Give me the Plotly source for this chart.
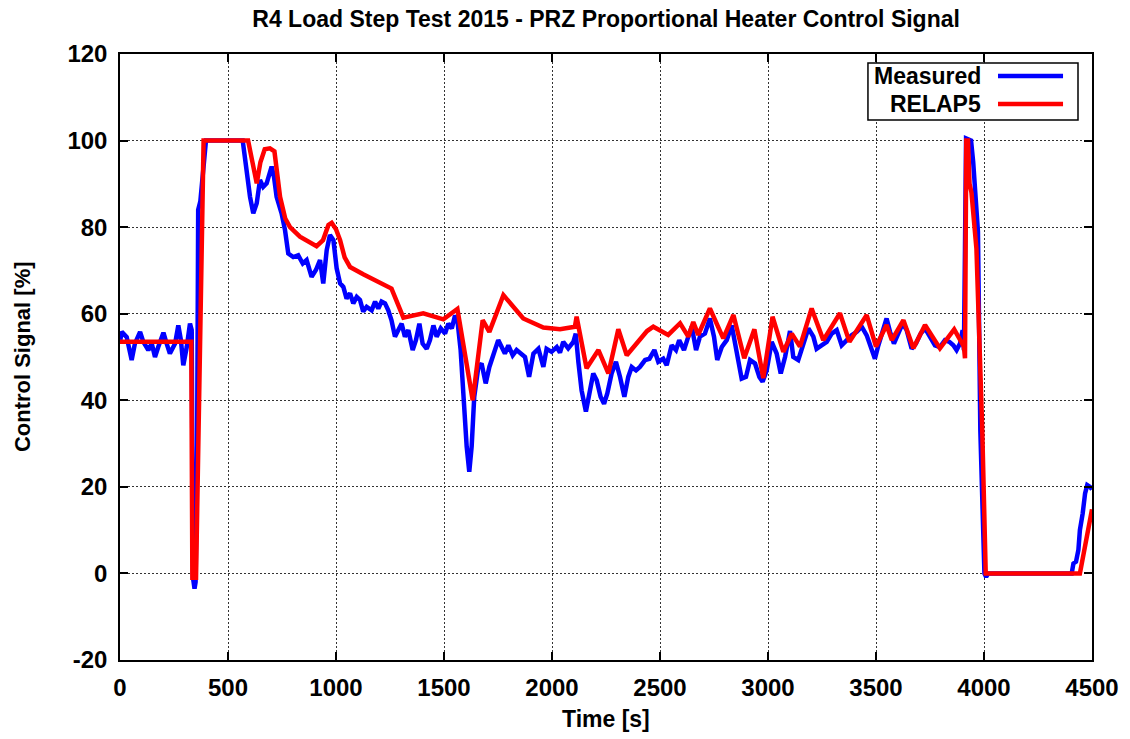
import plotly.graph_objects as go

# Measured pressurizer proportional heater control signal
time_meas = [0, 8, 31, 54, 69, 93, 108, 131, 147, 162, 177, 201, 216, 231, 255, 270, 282, 293, 309, 324, 332,
             338, 345, 350, 357, 362, 372, 398, 568, 586, 602, 617, 633, 648, 663, 679, 702, 713, 725, 748, 764,
             779, 802, 825, 846, 864, 887, 907, 926, 941, 957, 972, 988, 1003, 1019, 1034, 1049, 1065, 1080,
             1096, 1111, 1126, 1142, 1165, 1181, 1196, 1211, 1227, 1242, 1257, 1273, 1288, 1304, 1319, 1335,
             1355, 1370, 1386, 1401, 1420, 1435, 1451, 1466, 1485, 1505, 1520, 1536, 1551, 1562, 1577, 1590,
             1605, 1617, 1628, 1640, 1659, 1674, 1693, 1710, 1728, 1751, 1767, 1782, 1798, 1818, 1836, 1860,
             1875, 1894, 1914, 1937, 1960, 1975, 1998, 2022, 2037, 2052, 2075, 2099, 2110, 2122, 2137, 2157,
             2176, 2191, 2207, 2225, 2241, 2256, 2276, 2296, 2315, 2335, 2353, 2369, 2389, 2407, 2431, 2451,
             2474, 2492, 2515, 2531, 2554, 2574, 2589, 2611, 2631, 2647, 2667, 2685, 2708, 2731, 2750, 2765,
             2786, 2809, 2832, 2855, 2878, 2898, 2917, 2940, 2960, 2975, 2994, 3017, 3040, 3059, 3079, 3102,
             3117, 3140, 3164, 3187, 3210, 3225, 3248, 3272, 3295, 3318, 3341, 3364, 3387, 3411, 3434, 3457,
             3480, 3495, 3511, 3531, 3549, 3565, 3583, 3603, 3623, 3642, 3665, 3685, 3707, 3727, 3750, 3773,
             3796, 3819, 3840, 3858, 3873, 3889, 3901, 3907, 3912, 3917, 3940, 3950, 3972, 3983, 4002, 4010,
             4020, 4406, 4414, 4426, 4437, 4444, 4457, 4468, 4478, 4491, 4500]
signal_meas = [53.5, 55.8, 54.6, 49.3, 53.1, 55.8, 53.5, 51.6, 53.1, 50.0, 52.3, 55.6, 53.1, 50.8, 53.1, 57.3,
               53.9, 48.1, 52.3, 57.7, 56.2, -1.0, -3.5, -2.0, 30.0, 84.0, 86.0, 100.0, 100.0, 92.4, 87.0, 83.2,
               85.5, 90.9, 89.3, 90.1, 94.0, 91.6, 87.0, 83.2, 79.3, 73.9, 73.1, 73.5, 71.6, 72.4, 68.5, 70.1,
               72.4, 67.0, 74.7, 78.2, 77.0, 70.5, 67.0, 66.2, 63.5, 64.7, 62.4, 63.9, 63.2, 60.5, 61.6, 60.8,
               62.8, 61.2, 62.8, 62.4, 60.8, 58.5, 54.7, 56.2, 57.7, 54.7, 56.2, 51.6, 53.9, 57.7, 53.1, 51.9,
               53.9, 57.3, 54.7, 56.6, 55.4, 57.7, 56.6, 59.6, 58.5, 51.6, 40.8, 29.3, 23.5, 29.3, 40.8, 47.7,
               48.5, 43.9, 47.7, 50.8, 53.9, 52.3, 50.8, 52.7, 50.4, 51.6, 50.4, 50.0, 45.4, 50.8, 51.9, 47.7,
               51.9, 51.2, 52.3, 51.0, 53.5, 52.0, 53.5, 55.4, 48.9, 42.3, 37.4, 42.3, 46.2, 44.6, 40.8, 39.2,
               41.6, 46.2, 48.9, 45.4, 40.8, 45.4, 47.7, 46.9, 47.7, 49.3, 49.6, 51.6, 48.9, 49.6, 48.1, 52.7,
               51.6, 53.9, 51.6, 54.7, 57.0, 51.6, 54.7, 55.4, 58.9, 54.7, 49.3, 52.3, 53.9, 57.3, 50.8, 45.0,
               45.4, 49.3, 48.5, 45.4, 44.3, 46.9, 53.5, 50.8, 46.2, 50.0, 56.0, 50.0, 49.3, 53.1, 56.6, 54.7,
               51.9, 52.7, 53.5, 55.4, 56.2, 52.7, 53.9, 55.0, 55.8, 57.0, 55.0, 51.2, 49.6, 52.7, 56.2, 58.9,
               55.8, 53.1, 55.4, 57.7, 56.2, 51.9, 53.1, 55.4, 56.6, 54.7, 52.7, 52.3, 53.9, 53.5, 52.7, 51.6,
               53.1, 56.2, 51.6, 75.0, 100.5, 100.0, 95.0, 79.0, 33.0, 0.0, -0.8, 0.0, 0.0, 2.3, 2.7, 5.4, 10.0,
               13.9, 18.5, 20.4, 20.0, 19.4]

# RELAP5 simulation of the same signal
time_relap = [0, 330, 335, 352, 387, 593, 633, 650, 670, 694, 715, 741, 765, 787, 833, 910, 940, 965, 980, 1000,
              1019, 1040, 1065, 1126, 1257, 1312, 1404, 1497, 1562, 1633, 1679, 1710, 1775, 1867, 1960, 2037,
              2106, 2114, 2160, 2215, 2261, 2307, 2346, 2400, 2440, 2469, 2538, 2593, 2631, 2654, 2677, 2731,
              2793, 2840, 2890, 2937, 2978, 3021, 3071, 3110, 3148, 3202, 3256, 3333, 3377, 3457, 3500, 3549,
              3573, 3627, 3673, 3727, 3796, 3862, 3907, 3912, 3918, 3926, 3933, 3942, 3965, 3992, 4008, 4444,
              4500]
signal_relap = [53.5, 53.5, -1.0, -1.0, 100.0, 100.0, 90.1, 95.0, 98.0, 98.2, 97.5, 87.0, 82.0, 80.0, 77.8,
                75.6, 77.0, 80.5, 81.0, 79.5, 77.0, 73.0, 70.8, 69.1, 65.8, 59.1, 60.1, 58.7, 61.1, 40.0, 58.5,
                55.8, 64.3, 58.9, 56.8, 56.4, 57.0, 59.3, 47.4, 51.6, 46.2, 56.4, 50.4, 53.5, 56.0, 57.0, 55.1,
                57.8, 54.7, 58.1, 55.1, 61.2, 54.3, 59.7, 49.7, 56.4, 45.1, 59.3, 51.2, 55.4, 52.4, 61.2, 53.9,
                60.1, 53.5, 59.7, 52.4, 57.4, 53.9, 58.5, 52.0, 57.4, 52.0, 56.4, 52.4, 49.7, 100.0, 100.0, 90.0,
                88.0, 75.0, 33.0, 0.0, 0.0, 14.8]

x_ticks = [0, 500, 1000, 1500, 2000, 2500, 3000, 3500, 4000, 4500]
y_ticks = [-20, 0, 20, 40, 60, 80, 100, 120]
y_tick_labels = ["-20", "0", "20", "40", "60", "80", "100", "120"]

BLUE = "#0000ff"
RED = "#ff0000"
FONT = "Liberation Sans, Arial, sans-serif"


def font(size):
    return dict(family=FONT, size=size, color="black", weight="bold")


fig = go.Figure()
fig.add_trace(go.Scatter(x=time_meas, y=signal_meas, mode="lines", name="Measured",
                         line=dict(color=BLUE, width=4.5), showlegend=False))
fig.add_trace(go.Scatter(x=time_relap, y=signal_relap, mode="lines", name="RELAP5",
                         line=dict(color=RED, width=4.5), showlegend=False))

axis_common = dict(
    showline=True, linecolor="black", linewidth=1.5, mirror="allticks",
    ticks="inside", ticklen=8, tickwidth=1.5, tickcolor="black",
    showgrid=True, gridcolor="#333333", gridwidth=1, griddash="2px,2px",
    zeroline=False, tickfont=font(24),
)
fig.update_xaxes(range=[0, 4500], tickvals=x_ticks, ticklabelstandoff=5, **axis_common)
fig.update_yaxes(range=[-20, 120], tickvals=y_ticks, ticktext=y_tick_labels, ticklabelstandoff=6,
                 **axis_common)

# Legend box drawn in paper coordinates: labels on the left, line samples on the right
legend_items = [("Measured", BLUE, 0.9637), ("RELAP5", RED, 0.9175)]
fig.add_shape(type="rect", xref="paper", yref="paper", x0=0.7695, x1=0.9856, y0=0.8911, y1=0.9851,
              line=dict(color="black", width=1.5), fillcolor="white", layer="above")
for label, color, yy in legend_items:
    fig.add_shape(type="line", xref="paper", yref="paper", x0=0.9033, x1=0.9702, y0=yy, y1=yy,
                  line=dict(color=color, width=4.5), layer="above")
    fig.add_annotation(xref="paper", yref="paper", x=0.8879, y=yy, text=label, showarrow=False,
                       xanchor="right", yanchor="middle", font=font(23))

fig.add_annotation(xref="paper", yref="paper", x=0.5, y=-0.097, text="Time [s]", showarrow=False,
                   xanchor="center", yanchor="middle", font=font(23))
fig.add_annotation(xref="paper", yref="paper", x=-0.1007, y=0.5, text="Control Signal [%]", showarrow=False,
                   textangle=-90, xanchor="center", yanchor="middle", font=font(22))

fig.update_layout(
    width=1130, height=739,
    margin=dict(l=120, r=38, t=54, b=79),
    paper_bgcolor="white", plot_bgcolor="white",
    title=dict(text="R4 Load Step Test 2015 - PRZ Proportional Heater Control Signal",
               x=0.5364, xanchor="center", y=0.975, yanchor="middle", font=font(23)),
)

fig.write_html("out.html")
